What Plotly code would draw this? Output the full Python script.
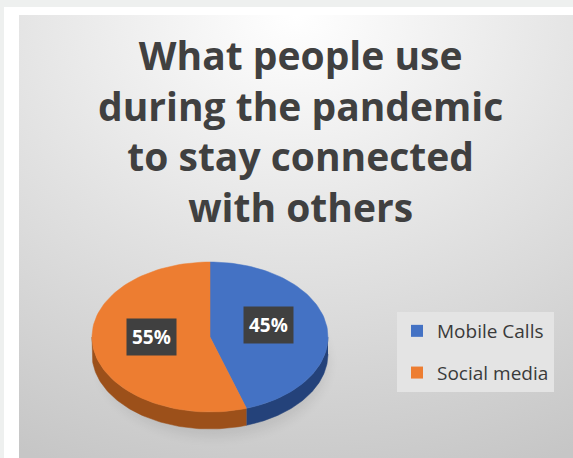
import base64
import numpy as np
import plotly.graph_objects as go

# ---- data ----
categories = ["Mobile Calls", "Social media"]
shares = [45, 55]
slice_colors = ["#4472C4", "#ED7D31"]
side_colors = ["#24427a", "#9c501a"]
title_lines = ["What people use", "during the pandemic", "to stay connected", "with others"]

W, H = 573, 458

# pie geometry (pixel space; y grows downward)
CX, CY, RX, RY, DEPTH = 210, 337, 118, 75, 17


def arc(a0, a1, dy=0.0, n=90):
    t = np.radians(np.linspace(a0, a1, n))
    return CX + RX * np.sin(t), CY - RY * np.cos(t) + dy


# background: page strips + radial gradient panel
svg = f"""<svg xmlns='http://www.w3.org/2000/svg' width='{W}' height='{H}'>
<defs><radialGradient id='g' cx='50%' cy='0%' r='110%'>
<stop offset='0' stop-color='#ffffff'/><stop offset='0.5' stop-color='#e2e2e2'/>
<stop offset='1' stop-color='#c6c6c6'/></radialGradient>
<filter id='b'><feGaussianBlur stdDeviation='6'/></filter></defs>
<rect width='{W}' height='{H}' fill='#eef0ef'/>
<rect x='4' y='7' width='{W-4}' height='{H-7}' fill='#ffffff'/>
<rect x='19' y='15' width='{W-19}' height='{H-15}' fill='url(#g)'/>
<ellipse cx='{CX + 4}' cy='{CY + DEPTH + 8}' rx='{RX - 4}' ry='{RY}' fill='#000' opacity='0.08' filter='url(#b)'/>
</svg>"""
bg_uri = "data:image/svg+xml;base64," + base64.b64encode(svg.encode()).decode()

fig = go.Figure()

total = sum(shares)
bounds = []
start = 0.0
for v in shares:
    end = start + v / total * 360.0
    bounds.append((start, end))
    start = end

# side walls (only the front half, 90..270 degrees, is visible)
for (a0, a1), col in zip(bounds, side_colors):
    s0, s1 = max(a0, 90.0), min(a1, 270.0)
    if s0 >= s1:
        continue
    xt, yt = arc(s0, s1)
    xb, yb = arc(s1, s0, dy=DEPTH)
    fig.add_trace(go.Scatter(
        x=np.concatenate([xt, xb]), y=np.concatenate([yt, yb]),
        fill="toself", fillcolor=col, mode="lines",
        line=dict(width=0.5, color=col), hoverinfo="skip", showlegend=False))

# top faces
for (a0, a1), col, name in zip(bounds, slice_colors, categories):
    xs, ys = arc(a0, a1)
    fig.add_trace(go.Scatter(
        x=np.concatenate([[CX], xs, [CX]]), y=np.concatenate([[CY], ys, [CY]]),
        fill="toself", fillcolor=col, mode="lines",
        line=dict(width=0.5, color=col), name=name, showlegend=False))

# legend entries
for i, (name, col) in enumerate(zip(categories, slice_colors)):
    fig.add_trace(go.Scatter(
        x=[None], y=[None], mode="markers", name=name, legendgroup=str(i),
        marker=dict(symbol="square", size=12, color=col)))

# percentage labels at slice mid-angles
annotations = []
for (a0, a1), v in zip(bounds, shares):
    m = np.radians((a0 + a1) / 2)
    annotations.append(dict(
        x=CX + 0.5 * RX * np.sin(m), y=CY - 0.5 * RY * np.cos(m) - 6,
        xref="x", yref="y", text=f"{v}%", showarrow=False,
        bgcolor="#404040", borderpad=5,
        font=dict(family="Open Sans", size=19, color="white", weight="bold")))

annotations.append(dict(
    x=300 / W, y=1 - 26 / H, xref="paper", yref="paper",
    xanchor="center", yanchor="top", showarrow=False,
    text="<br>".join(title_lines),
    font=dict(family="Open Sans", size=39, color="#404040", weight="bold")))

fig.update_layout(
    width=W, height=H,
    margin=dict(l=0, r=0, t=0, b=0),
    paper_bgcolor="#eef0ef", plot_bgcolor="rgba(0,0,0,0)",
    xaxis=dict(range=[0, W], visible=False, fixedrange=True),
    yaxis=dict(range=[H, 0], visible=False, fixedrange=True),
    images=[dict(source=bg_uri, xref="paper", yref="paper", x=0, y=1,
                 sizex=1, sizey=1, sizing="stretch", layer="below",
                 xanchor="left", yanchor="top")],
    annotations=annotations,
    legend=dict(x=397 / W, y=1 - 312 / H, xanchor="left", yanchor="top",
                bgcolor="#e4e4e4", tracegroupgap=14,
                font=dict(family="Open Sans", size=19, color="#3a3a3a")),
    showlegend=True,
)

fig.write_html("out.html")
